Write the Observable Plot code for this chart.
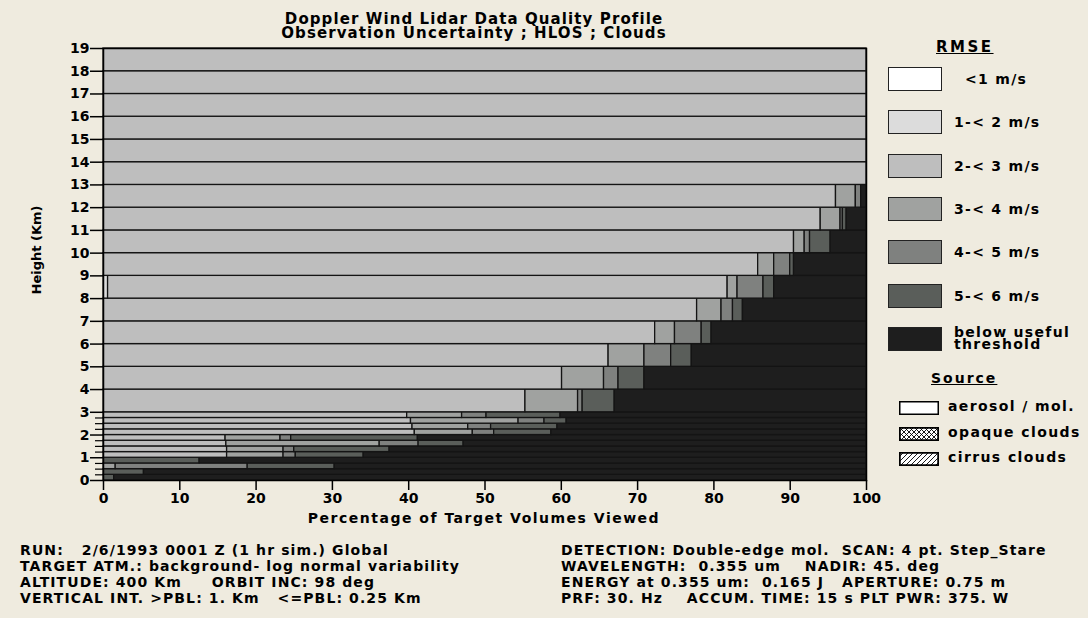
<!DOCTYPE html>
<html><head><meta charset="utf-8">
<script src="https://cdn.jsdelivr.net/npm/d3@7"></script>
<script src="https://cdn.jsdelivr.net/npm/@observablehq/plot@0.6"></script>
<style>
body{margin:0;background:#efebdf;font-family:"DejaVu Sans",Arial,sans-serif;}
#wrap{position:relative;width:1088px;height:618px;overflow:hidden;background:#efebdf;}
.abs{position:absolute;white-space:pre;color:#000;font-weight:bold;}
</style></head><body><div id="wrap"></div>
<script>
// RMSE categories and their fills
const categories = ["<1 m/s","1-< 2 m/s","2-< 3 m/s","3-< 4 m/s","4-< 5 m/s","5-< 6 m/s","below useful threshold"];
const colors = ["#ffffff","#dcdcdc","#bebebe","#a0a2a0","#7f817f","#5a5e5a","#1e1e1e"];
// vertical layers (km), bottom to top
const layerBottom = [0,0.25,0.5,0.75,1,1.25,1.5,1.75,2,2.25,2.5,2.75,3,4,5,6,7,8,9,10,11,12,13,14,15,16,17,18];
const layerTop    = [0.25,0.5,0.75,1,1.25,1.5,1.75,2,2.25,2.5,2.75,3,4,5,6,7,8,9,10,11,12,13,14,15,16,17,18,19];
// percentage of target volumes per layer, per category
const rmseLt1   = [0,0,0,0,0,0,0,0,0,0,0,0,0,0,0,0,0,0,0,0,0,0,0,0,0,0,0,0];
const rmse1to2  = [0,0,0,0,0,0,0,0,0,0,0,0,0,0,0,0,0,0.6,0,0,0,0,0,0,0,0,0,0];
const rmse2to3  = [0,0,0,0,16.2,16.2,16.1,16.0,40.8,40.5,40.3,39.8,55.3,60.1,66.2,72.3,77.8,81.2,85.8,90.5,94.0,96.0,100,100,100,100,100,100];
const rmse3to4  = [0,0,1.6,0,7.4,7.4,20.1,7.2,7.6,7.3,14.1,7.2,6.9,5.5,4.7,2.6,3.2,1.3,2.1,1.4,2.6,2.6,0,0,0,0,0,0];
const rmse4to5  = [0,0,17.3,0,1.6,1.4,5.1,1.4,2.8,3.0,3.4,3.2,0.6,1.9,3.5,3.5,1.5,3.4,2.1,0.7,0.3,0.7,0,0,0,0,0,0];
const rmse5to6  = [1.4,5.3,11.4,12.6,8.9,12.5,5.9,16.6,7.5,8.7,2.9,9.7,4.2,3.4,2.7,1.3,1.3,1.4,0.5,2.7,0.5,0,0,0,0,0,0,0];
const belowThr  = [98.6,94.7,69.7,87.4,65.9,62.5,52.8,58.8,41.3,40.5,39.3,40.1,33.0,29.1,22.9,20.3,16.2,12.1,9.5,4.7,2.6,0.7,0,0,0,0,0,0];
const xTicks = [0,10,20,30,40,50,60,70,80,90,100];
const yTicks = [0,1,2,3,4,5,6,7,8,9,10,11,12,13,14,15,16,17,18,19];
const minorTicks = [0.25,0.5,0.75,1.25,1.5,1.75,2.25,2.5,2.75];
const sourceLabels = ["aerosol / mol.","opaque clouds","cirrus clouds"];

const series = [rmseLt1, rmse1to2, rmse2to3, rmse3to4, rmse4to5, rmse5to6, belowThr];
const rows = [];
layerBottom.forEach((b, i) => {
  let acc = 0;
  series.forEach((s, c) => {
    const v = s[i];
    if (v > 0) rows.push({y1: b, y2: layerTop[i], x1: acc, x2: acc + v, cat: categories[c]});
    acc += v;
  });
});

const wrap = document.getElementById("wrap");
const chart = Plot.plot({
  width: 1088, height: 530,
  marginLeft: 103, marginRight: 222, marginTop: 48, marginBottom: 50,
  style: {background: "transparent", fontFamily: "DejaVu Sans, Arial, sans-serif", fontSize: "14px", fontWeight: "bold", color: "#000", overflow: "visible"},
  x: {domain: [0, 100]},
  y: {domain: [0, 19]},
  color: {domain: categories, range: colors},
  marks: [
    Plot.rect(rows, {x1: "x1", x2: "x2", y1: "y1", y2: "y2", fill: "cat", stroke: "#141414", strokeWidth: 1.3}),
    Plot.frame({stroke: "#000", strokeWidth: 1.5}),
    Plot.axisX({ticks: xTicks, tickSize: 10, tickPadding: 3, label: null, fontWeight: "bold", stroke: "#000", strokeWidth: 1.5}),
    Plot.axisY({ticks: yTicks, tickSize: 13, tickPadding: 1, label: null, fontWeight: "bold", stroke: "#000", strokeWidth: 1.5}),
    Plot.axisY({ticks: minorTicks, tickSize: 8, tickFormat: () => "", label: null, stroke: "#000", strokeWidth: 1.2})
  ]
});
chart.style.position = "absolute";
chart.style.left = "0px";
chart.style.top = "0px";
wrap.appendChild(chart);

function addText(html, left, top, extra = {}) {
  const d = document.createElement("div");
  d.className = "abs";
  d.innerHTML = html;
  d.style.left = left + "px";
  d.style.top = top + "px";
  Object.assign(d.style, extra);
  wrap.appendChild(d);
  return d;
}
// titles (two separate tight lines)
addText("Doppler Wind Lidar Data Quality Profile", 224, 13, {width: "500px", textAlign: "center", fontSize: "15px", lineHeight: "13px", height: "13px", letterSpacing: "1.1px"});
addText("Observation Uncertainty ; HLOS ; Clouds", 224, 27, {width: "500px", textAlign: "center", fontSize: "15px", lineHeight: "13px", height: "13px", letterSpacing: "1.1px"});
// axis titles
addText("Percentage of Target Volumes Viewed", 234, 510, {width: "500px", textAlign: "center", fontSize: "14px", letterSpacing: "1.5px"});
addText("Height (Km)", 36, 250, {fontSize: "13px", transform: "translate(-50%,-50%) rotate(-90deg)"});

// info blocks
const leftInfo = [
  "RUN:   2/6/1993 0001 Z (1 hr sim.) Global",
  "TARGET ATM.: background- log normal variability",
  "ALTITUDE: 400 Km     ORBIT INC: 98 deg",
  "VERTICAL INT. &gt;PBL: 1. Km   &lt;=PBL: 0.25 Km"
];
const rightInfo = [
  "DETECTION: Double-edge mol.  SCAN: 4 pt. Step_Stare",
  "WAVELENGTH:  0.355 um    NADIR: 45. deg",
  "ENERGY at 0.355 um:  0.165 J   APERTURE: 0.75 m",
  "PRF: 30. Hz    ACCUM. TIME: 15 s PLT PWR: 375. W"
];
const infoStyle = {fontSize: "14px", lineHeight: "15px", height: "15px", letterSpacing: "1.1px"};
leftInfo.forEach((t, i) => addText(t, 20, 543 + i * 16, infoStyle));
rightInfo.forEach((t, i) => addText(t, 561, 543 + i * 16, infoStyle));

// RMSE legend
addText("RMSE", 936, 38, {fontSize: "15px", textDecoration: "underline", letterSpacing: "2.5px"});
categories.forEach((c, i) => {
  const top = 67 + i * 43.3;
  const box = document.createElement("div");
  Object.assign(box.style, {position: "absolute", left: "888px", top: top + "px", width: "52px", height: "22px",
    background: colors[i], border: "1.5px solid #222"});
  wrap.appendChild(box);
  const st = {fontSize: "14px", letterSpacing: "1.3px"};
  if (i === categories.length - 1) {
    addText("below useful", 954, top, {...st, lineHeight: "11px", height: "11px"});
    addText("threshold", 954, top + 12, {...st, lineHeight: "11px", height: "11px"});
  } else {
    addText(c, i === 0 ? 965 : 954, top + 4, st);
  }
});

// Source legend
addText("Source", 931, 370, {fontSize: "14px", textDecoration: "underline", letterSpacing: "2px"});
const pat = [
  "",
  "<pattern id='xh' width='5' height='5' patternUnits='userSpaceOnUse'><path d='M0,0L5,5M5,0L0,5' stroke='#000' stroke-width='0.9'/></pattern>",
  "<pattern id='dh' width='5' height='5' patternUnits='userSpaceOnUse'><path d='M0,5L5,0M-1,1L1,-1M4,6L6,4' stroke='#000' stroke-width='0.9'/></pattern>"
];
const patFill = ["#fff", "url(#xh)", "url(#dh)"];
sourceLabels.forEach((s, i) => {
  const top = 400 + i * 25.5;
  const d = document.createElement("div");
  d.style.position = "absolute"; d.style.left = "899px"; d.style.top = top + "px";
  d.innerHTML = `<svg width="40" height="14"><defs>${pat[i]}</defs><rect x="0.75" y="0.75" width="38.5" height="12.5" fill="#fff" stroke="#000" stroke-width="1.5"/><rect x="0.75" y="0.75" width="38.5" height="12.5" fill="${patFill[i]}" stroke="#000" stroke-width="1.5"/></svg>`;
  wrap.appendChild(d);
  addText(s, 948, top - 2, {fontSize: "14px", letterSpacing: "1.4px"});
});
</script></body></html>
